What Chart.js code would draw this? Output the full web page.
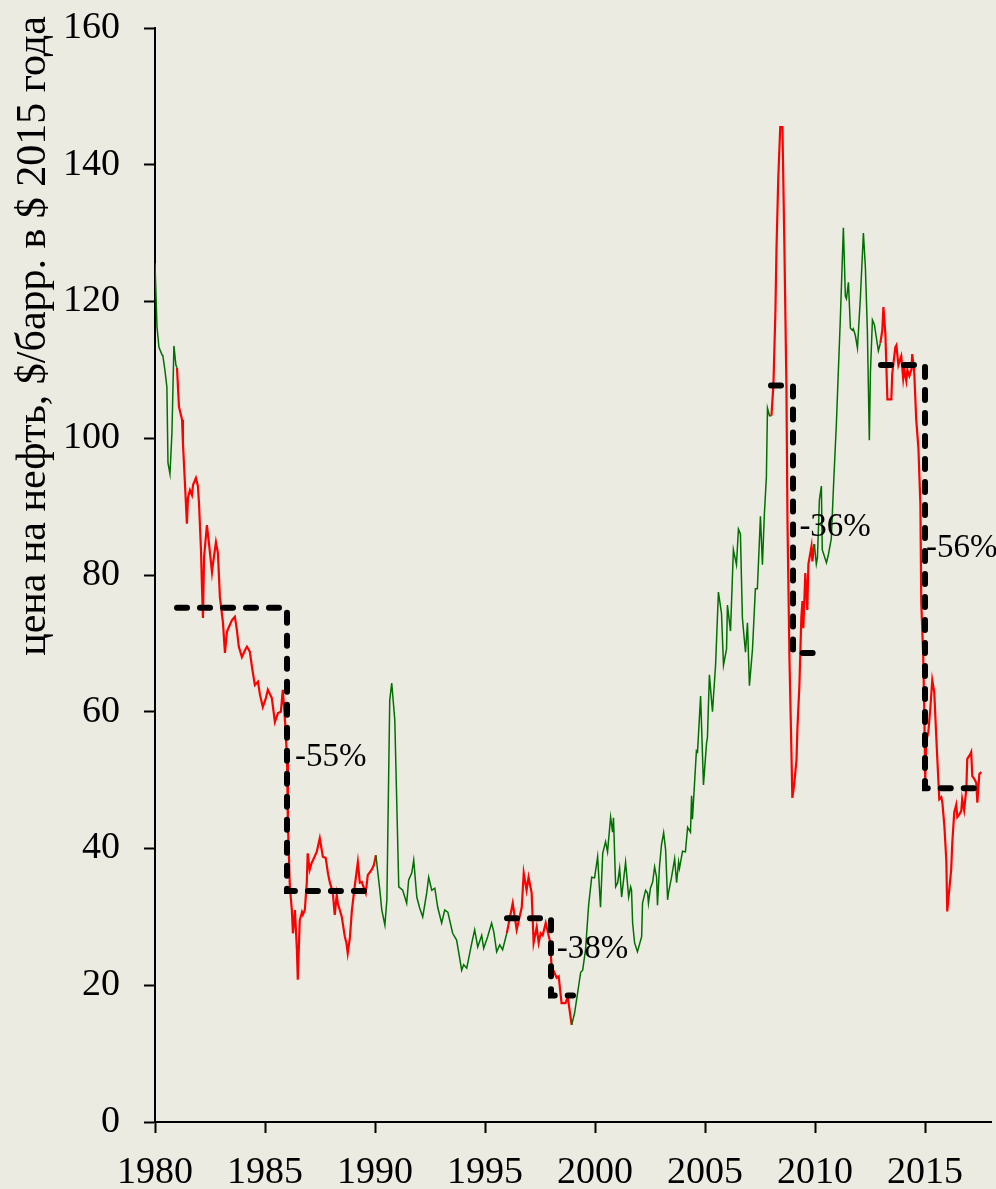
<!DOCTYPE html>
<html>
<head>
<meta charset="utf-8">
<script src="https://cdn.jsdelivr.net/npm/chart.js@4.4.0/dist/chart.umd.min.js"></script>
<style>
  html, body { margin: 0; padding: 0; background: #ecebe2; }
  canvas { display: block; }
</style>
</head>
<body>
<canvas id="chart" width="996" height="1189"></canvas>
<script>
// ================= DATA =================
// monthly-ish oil price, $/bbl in 2015 dollars
const yr80 = [
  1980.00, 1980.09, 1980.18, 1980.32, 1980.36, 1980.45, 1980.54, 1980.59, 1980.68, 1980.77, 1980.86, 1980.95,
  1981.00, 1981.09, 1981.23, 1981.27, 1981.36, 1981.45, 1981.50, 1981.59, 1981.68, 1981.73, 1981.86, 1981.95,
  1982.00, 1982.09, 1982.13, 1982.18, 1982.23, 1982.36, 1982.45, 1982.59, 1982.63, 1982.77, 1982.86, 1982.95,
  1983.09, 1983.18, 1983.27, 1983.36, 1983.50, 1983.63, 1983.72, 1983.81, 1983.95,
  1984.09, 1984.18, 1984.31, 1984.41, 1984.54, 1984.68, 1984.77, 1984.90,
  1985.04, 1985.13, 1985.31, 1985.45, 1985.59, 1985.72, 1985.81, 1985.90,
  1986.00, 1986.04, 1986.13, 1986.22, 1986.27, 1986.36, 1986.45, 1986.49, 1986.58, 1986.68, 1986.72, 1986.81, 1986.90, 1986.94,
  1987.03, 1987.12, 1987.17, 1987.35, 1987.49, 1987.63, 1987.76, 1987.86, 1987.95,
  1988.08, 1988.17, 1988.26, 1988.31, 1988.49, 1988.63, 1988.70, 1988.76, 1988.86, 1988.95,
  1989.08, 1989.22, 1989.31, 1989.40, 1989.58, 1989.67, 1989.85, 1989.95
];
const px80 = [
  125.6, 116.3, 113.3, 112.2, 112.0, 110.0, 107.5, 96.4, 94.8, 100.8, 113.5, 110.7,
  110.3, 104.6, 102.7, 99.3, 93.5, 87.5, 91.3, 92.4, 91.7, 93.2, 94.2, 93.0,
  90.5, 83.7, 78.8, 73.7, 82.6, 87.3, 84.7, 80.4, 81.5, 84.8, 83.2, 76.8,
  73.0, 68.6, 71.7, 72.4, 73.4, 73.9, 72.0, 69.5, 68.0,
  69.0, 69.5, 68.8, 66.5, 63.9, 64.4, 62.5, 60.7,
  62.0, 63.2, 62.0, 58.5, 59.8, 60.0, 63.2, 59.2,
  53.4, 43.7, 34.4, 31.0, 27.6, 31.0, 25.2, 20.8, 29.5, 30.7, 30.3, 31.0, 35.0, 39.3,
  36.9, 37.9, 38.2, 39.5, 41.5, 38.8, 38.6, 36.4, 35.0,
  33.6, 30.3, 33.2, 32.0, 30.0, 27.1, 26.2, 24.7, 27.0, 31.0,
  34.5, 38.0, 35.0, 35.1, 33.5, 36.1, 36.9, 37.6
];

const yr90 = [
  1990.04, 1990.22, 1990.31, 1990.45, 1990.54, 1990.67, 1990.76, 1990.90,
  1991.08, 1991.26, 1991.44, 1991.53, 1991.67, 1991.76, 1991.90,
  1992.03, 1992.17, 1992.35, 1992.44, 1992.58, 1992.72, 1992.85,
  1993.03, 1993.17, 1993.31, 1993.53, 1993.71, 1993.94,
  1994.03, 1994.17, 1994.40, 1994.53, 1994.67, 1994.85, 1994.94,
  1995.12, 1995.30, 1995.40, 1995.53, 1995.67, 1995.80, 1995.99,
  1996.26, 1996.44, 1996.67, 1996.76, 1996.89, 1996.98,
  1997.12, 1997.21, 1997.35, 1997.44, 1997.53, 1997.62, 1997.76, 1997.94,
  1998.03, 1998.26, 1998.35, 1998.48, 1998.66, 1998.76, 1998.94,
  1999.07, 1999.21, 1999.35, 1999.44, 1999.57, 1999.71, 1999.85, 1999.98
];
const px90 = [
  39.0, 33.9, 31.0, 28.8, 32.5, 61.7, 64.2, 58.8,
  34.4, 33.9, 32.0, 35.4, 36.4, 38.3, 32.9,
  31.3, 30.0, 33.5, 35.8, 33.9, 34.2, 31.4,
  29.1, 31.0, 30.7, 27.6, 26.6, 22.2,
  23.0, 22.5, 26.2, 28.1, 25.6, 27.3, 25.4,
  27.1, 29.1, 27.8, 24.9, 25.9, 25.2, 27.6,
  32.0, 28.1, 31.4, 36.4, 33.9, 35.8,
  33.5, 26.2, 28.5, 26.2, 27.6, 27.3, 29.1, 26.6,
  22.7, 21.1, 21.3, 17.4, 17.4, 18.3, 14.2,
  15.9, 18.9, 21.9, 22.2, 25.2, 31.7, 35.8, 35.7
];

const yr00 = [
  2000.12, 2000.25, 2000.35, 2000.48, 2000.57, 2000.71, 2000.80, 2000.84, 2000.94,
  2001.03, 2001.12, 2001.21, 2001.39, 2001.53, 2001.62, 2001.66, 2001.71, 2001.80, 2001.93,
  2002.12, 2002.16, 2002.30, 2002.39, 2002.43, 2002.52, 2002.62, 2002.71, 2002.80, 2002.84, 2002.93,
  2003.02, 2003.12, 2003.21, 2003.30, 2003.34, 2003.48, 2003.62, 2003.71, 2003.80, 2003.84, 2003.98,
  2004.11, 2004.21, 2004.34, 2004.39, 2004.43, 2004.61, 2004.66, 2004.80, 2004.93,
  2005.07, 2005.11, 2005.20, 2005.34, 2005.48, 2005.61, 2005.75, 2005.84, 2005.98,
  2006.02, 2006.16, 2006.29, 2006.43, 2006.52, 2006.61, 2006.70, 2006.84, 2006.93,
  2007.02, 2007.16, 2007.29, 2007.38, 2007.52, 2007.61, 2007.70, 2007.79, 2007.84, 2007.93,
  2008.02, 2008.11, 2008.20, 2008.25, 2008.33, 2008.42, 2008.52, 2008.61, 2008.70, 2008.75, 2008.84, 2008.93, 2008.97,
  2009.02, 2009.06, 2009.16, 2009.20, 2009.29, 2009.38, 2009.43, 2009.47, 2009.56, 2009.65, 2009.70, 2009.84, 2009.88, 2009.97
];
const px00 = [
  38.8, 31.4, 39.3, 41.0, 39.5, 44.6, 42.4, 44.5, 34.4,
  35.0, 37.1, 32.9, 38.0, 32.9, 34.4, 33.9, 29.1, 26.2, 24.9,
  27.1, 32.0, 33.9, 33.5, 32.0, 34.2, 35.1, 37.3, 35.8, 31.7, 37.3,
  40.5, 42.3, 39.8, 32.5, 33.5, 35.8, 38.5, 35.0, 38.0, 37.1, 39.6,
  39.5, 43.1, 42.4, 47.7, 44.3, 54.3, 54.1, 62.3, 49.3,
  55.4, 56.2, 65.4, 60.0, 66.8, 77.5, 74.4, 66.8, 69.2,
  75.6, 71.8, 83.7, 81.5, 86.7, 86.0, 73.7, 68.7, 73.0,
  63.8, 69.2, 78.0, 78.0, 88.6, 81.5, 89.0, 94.3, 104.4, 103.3,
  103.3, 107.8, 118.5, 127.8, 138.0, 145.5, 145.5, 127.8, 107.8, 87.6, 67.6, 53.9, 47.4,
  48.5, 49.6, 53.0, 57.5, 63.8, 73.9, 76.2, 72.2, 80.3, 74.9, 81.6, 84.2, 82.0, 84.5
];

const yr10 = [
  2010.06, 2010.11, 2010.20, 2010.29, 2010.33, 2010.52, 2010.61, 2010.74, 2010.84, 2010.97,
  2011.06, 2011.15, 2011.29, 2011.38, 2011.43, 2011.52, 2011.61, 2011.70, 2011.74, 2011.83, 2011.93,
  2012.06, 2012.20, 2012.29, 2012.38, 2012.47, 2012.52, 2012.61, 2012.70, 2012.79, 2012.88, 2012.97,
  2013.06, 2013.11, 2013.20, 2013.29, 2013.47, 2013.51, 2013.65, 2013.70, 2013.79, 2013.88, 2013.92,
  2014.01, 2014.06, 2014.15, 2014.20, 2014.29, 2014.38, 2014.42, 2014.51, 2014.60, 2014.70, 2014.79, 2014.83, 2014.92, 2014.97,
  2015.01, 2015.06, 2015.15, 2015.24, 2015.33, 2015.42, 2015.51, 2015.56, 2015.65, 2015.74, 2015.79, 2015.88, 2015.97,
  2016.01, 2016.19, 2016.24, 2016.33, 2016.42, 2016.47, 2016.56, 2016.65, 2016.69, 2016.78, 2016.88, 2016.92,
  2017.06, 2017.10, 2017.15, 2017.24, 2017.33, 2017.38, 2017.47, 2017.56
];
const px10 = [
  81.6, 82.5, 91.0, 93.0, 83.7, 81.8, 83.0, 85.3, 92.9, 102.0,
  109.7, 117.3, 130.8, 120.8, 120.4, 122.8, 116.1, 115.8, 116.0, 115.1, 113.2,
  120.4, 130.0, 125.0, 115.8, 99.7, 109.7, 117.3, 116.6, 114.7, 112.8, 113.9,
  115.8, 119.2, 115.2, 105.7, 105.7, 109.4, 113.3, 113.6, 110.7, 111.6, 112.0,
  108.7, 110.0, 108.4, 110.0, 109.1, 110.0, 112.3, 109.7, 102.8, 98.6, 90.4, 76.0, 68.1, 59.7,
  50.0, 55.8, 57.0, 60.4, 64.6, 62.9, 56.5, 53.1, 47.2, 47.5, 46.7, 43.3, 38.2,
  30.8, 36.9, 40.8, 45.3, 46.4, 44.6, 45.0, 45.5, 47.2, 45.6, 48.8, 53.1,
  53.8, 54.1, 50.6, 50.2, 49.6, 46.7, 50.9, 51.2
];

// price falls: plateau before, crash date, plateau after
const crashStart  = [1981, 1996, 2008, 2013];
const crashAt     = [1986, 1998, 2009, 2015];
const crashEnd    = [1990, 1999, 2010, 2017.6];
const levelBefore = [75.2, 29.8, 107.7, 110.7];
const levelAfter  = [33.8, 18.5, 68.6, 48.8];
const dropLabels  = ["-55%", "-38%", "-36%", "-56%"];
const labelX      = [1986.36, 1998.26, 2009.29, 2015.05];
const labelY      = [53.4, 25.2, 86.9, 83.9];

const xTicks = [1980, 1985, 1990, 1995, 2000, 2005, 2010, 2015];
const yTicks = [0, 20, 40, 60, 80, 100, 120, 140, 160];
const yTitle = "цена на нефть, $/барр. в $ 2015 года";

// ================= STYLE =================
const FONT = "'Liberation Serif', 'Times New Roman', serif";
const BG = "#ecebe2";
const GREEN = "#007000";
const RED = "#ff0000";

const years = [...yr80, ...yr90, ...yr00, ...yr10];
const prices = [...px80, ...px90, ...px00, ...px10];

function inCrash(x) {
  return crashStart.some((s, i) => x >= s && x <= crashEnd[i]);
}

const priceSet = {
  data: years.map((x, i) => ({ x: x, y: prices[i] })),
  borderColor: GREEN,
  borderWidth: 1.5,
  order: 2,
  segment: {
    borderColor: c => inCrash((c.p0.parsed.x + c.p1.parsed.x) / 2) ? RED : GREEN,
    borderWidth: c => inCrash((c.p0.parsed.x + c.p1.parsed.x) / 2) ? 2.2 : 1.5
  }
};

const stepSets = crashStart.map((s, i) => ({
  data: [
    { x: s, y: levelBefore[i] },
    { x: crashAt[i], y: levelBefore[i] },
    { x: crashAt[i], y: levelAfter[i] },
    { x: crashEnd[i], y: levelAfter[i] }
  ],
  borderColor: "#000",
  borderWidth: 6,
  borderDash: [10, 13],
  borderCapStyle: "round",
  order: 1
}));

// ================= PLUGINS =================
const paperBg = {
  id: "paperBg",
  beforeDraw(chart) {
    const c = chart.ctx;
    c.save();
    c.fillStyle = BG;
    c.fillRect(0, 0, chart.width, chart.height);
    c.restore();
  }
};

const dropText = {
  id: "dropText",
  afterDatasetsDraw(chart) {
    const c = chart.ctx;
    const { x, y } = chart.scales;
    c.save();
    c.font = "33px " + FONT;
    c.fillStyle = "#000";
    c.textAlign = "left";
    c.textBaseline = "middle";
    dropLabels.forEach((t, i) => {
      c.fillText(t, x.getPixelForValue(labelX[i]), y.getPixelForValue(labelY[i]));
    });
    c.restore();
  }
};

const sideTitle = {
  id: "sideTitle",
  afterDraw(chart) {
    const c = chart.ctx;
    c.save();
    c.translate(34, 336);
    c.rotate(-Math.PI / 2);
    c.font = "42px " + FONT;
    c.fillStyle = "#000";
    c.textAlign = "center";
    c.textBaseline = "middle";
    c.fillText(yTitle, 0, 0);
    c.restore();
  }
};

// ================= CHART =================
const axisGrid = {
  drawOnChartArea: false,
  drawTicks: true,
  tickLength: 11,
  tickWidth: 2,
  tickColor: "#000"
};

new Chart(document.getElementById("chart"), {
  type: "line",
  data: { datasets: [priceSet, ...stepSets] },
  options: {
    responsive: false,
    animation: false,
    events: [],
    layout: { padding: { top: 28, right: 5, left: 0, bottom: 0 } },
    elements: { point: { radius: 0, hoverRadius: 0 }, line: { tension: 0 } },
    plugins: { legend: { display: false }, tooltip: { enabled: false } },
    scales: {
      x: {
        type: "linear",
        min: 1980,
        max: 2018,
        afterBuildTicks: s => { s.ticks = xTicks.map(v => ({ value: v })); },
        afterFit: s => { s.height = 67; },
        grid: axisGrid,
        border: { display: true, color: "#000", width: 2 },
        ticks: {
          color: "#000",
          font: { family: FONT, size: 38 },
          padding: 17,
          maxRotation: 0,
          autoSkip: false,
          callback: v => String(v)
        }
      },
      y: {
        type: "linear",
        min: 0,
        max: 160,
        afterBuildTicks: s => { s.ticks = yTicks.map(v => ({ value: v })); },
        // fixed gutter; the label overhang must not push the plot down
        afterFit: s => { s.width = 155; s.paddingTop = 0; s.paddingBottom = 0; },
        grid: axisGrid,
        border: { display: true, color: "#000", width: 2 },
        ticks: {
          color: "#000",
          font: { family: FONT, size: 38 },
          padding: 24,
          callback: v => String(v)
        }
      }
    }
  },
  plugins: [paperBg, dropText, sideTitle]
});
</script>
</body>
</html>
